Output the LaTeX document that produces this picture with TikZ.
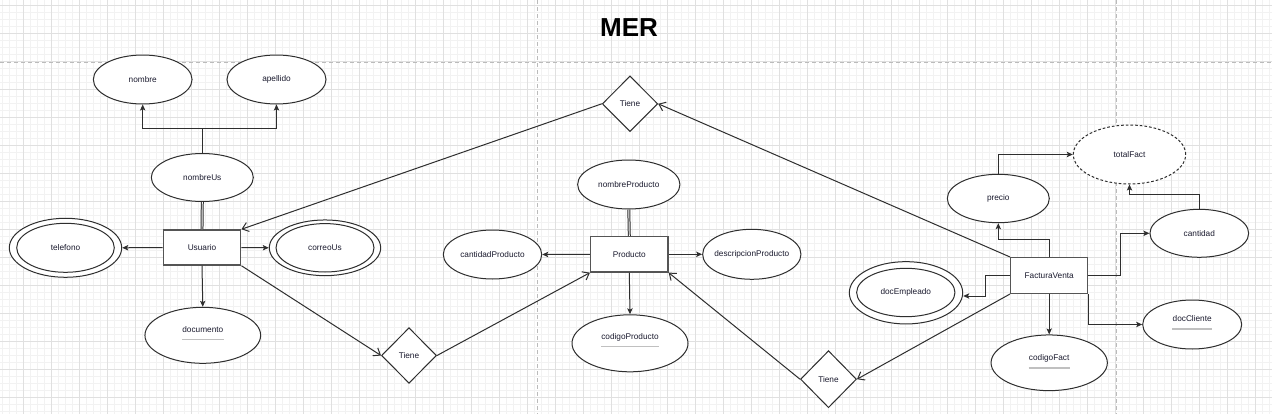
\documentclass[tikz,border=0pt]{standalone}
\usepackage{fontspec}
\setmainfont{Liberation Sans}
\usetikzlibrary{arrows.meta,shapes.geometric}
\definecolor{txt}{HTML}{1A1A2E}
\definecolor{stroke}{HTML}{2E2E2E}
\definecolor{gmajor}{HTML}{E0E0E0}
\definecolor{gminor}{HTML}{F2F2F2}
\definecolor{pagebrk}{HTML}{BBBBBB}
\definecolor{ulcol}{HTML}{C0C0C0}
\definecolor{rectcol}{HTML}{555555}
\begin{document}
\begin{tikzpicture}[x=0.75pt,y=-0.75pt,
  sz/.style 2 args={minimum width={#1*0.75pt},minimum height={#2*0.75pt}},
  lbl/.style={font=\fontsize{6.2pt}{7pt}\selectfont, text=txt, inner sep=0pt},
  attr/.style={ellipse, draw=stroke, line width=0.75pt, fill=white, lbl},
  derived/.style={attr, dash pattern=on 2pt off 1.5pt},
  ent/.style={rectangle, draw=rectcol, line width=1.1pt, fill=white, lbl},
  rel/.style={diamond, draw=stroke, line width=0.75pt, fill=white, lbl},
  plain/.style={draw=stroke, line width=0.75pt},
  arr/.style={plain, -{Stealth[length=4.5pt,width=4pt,inset=1pt]}},
  opn/.style={plain, -{Straight Barb[length=4.5pt,width=7pt]}},
  dbl/.style={draw=stroke, line width=0.75pt, double=white, double distance=0.7pt},
  uline/.style={draw=ulcol, line width=1pt},
  title/.style={font=\bfseries\fontsize{19.5pt}{22pt}\selectfont, text=black, inner sep=0pt}
]
% background and grid
\fill[white] (0,0) rectangle (1272,414);
\useasboundingbox (0,0) rectangle (1272,414);
\draw[gminor, line width=0.5pt] \foreach \i in {0,...,181} {(2.5+7*\i,0) -- (2.5+7*\i,414)};
\draw[gminor, line width=0.5pt] \foreach \i in {0,...,58} {(0,5.3+7*\i) -- (1272,5.3+7*\i)};
\draw[gmajor, line width=0.75pt] \foreach \i in {0,...,44} {(23.5+28*\i,0) -- (23.5+28*\i,414)};
\draw[gmajor, line width=0.75pt] \foreach \i in {0,...,14} {(0,5.3+28*\i) -- (1272,5.3+28*\i)};
\draw[pagebrk, line width=0.75pt, dash pattern=on 3pt off 2.25pt]
  (537,0) -- (537,414) (1116,0) -- (1116,414) (0,62) -- (1272,62);

% title
\node[title] (ttl) at (629,28) {MER};

% Usuario cluster
\node[attr, sz={98.7}{49}] (nombre) at (142.7,79.5) {nombre};
\node[attr, sz={99}{49}] (apellido) at (276.5,79.5) {apellido};
\node[attr, sz={102}{48}] (nombreUs) at (202.3,177.5) {nombreUs};
\node[ent, sz={77.4}{35}] (Usuario) at (202,247.5) {Usuario};
\node[attr, sz={112.4}{59}] (telefono) at (65.5,247.8) {};
\node[attr, sz={97.6}{49}] (telefonoIn) at (65.5,247.8) {telefono};
\node[attr, sz={111.4}{55.7}] (correoUs) at (325,247.8) {};
\node[attr, sz={98}{48.4}] (correoUsIn) at (325,247.8) {correoUs};
\node[attr, sz={115.7}{56}] (documento) at (202.8,335.3) {};
\node[lbl, anchor=base] (documentoT) at (202.8,332.6) {documento};

% relationships
\node[rel, sz={55.4}{55.7}] (tieneA) at (630,103.8) {Tiene};
\node[rel, sz={55}{55.6}] (tieneB) at (409,355.5) {Tiene};
\node[rel, sz={56}{57}] (tieneC) at (828.5,379.2) {Tiene};

% Producto cluster
\node[attr, sz={102.3}{49}] (nombreProducto) at (628.8,184.5) {nombreProducto};
\node[ent, sz={77.3}{35.3}] (Producto) at (629.3,254.3) {Producto};
\node[attr, sz={98.4}{49}] (cantidadProducto) at (492.5,254.5) {\makebox[0pt]{cantidadProducto}};
\node[attr, sz={98.3}{50}] (descripcionProducto) at (751.8,254.3) {\makebox[0pt]{descripcionProducto}};
\node[attr, sz={116}{57}] (codigoProducto) at (630,343.3) {};
\node[lbl, anchor=base] (codigoProductoT) at (630,339.8) {codigoProducto};

% FacturaVenta cluster
\node[ent, sz={77}{35.6}] (FacturaVenta) at (1049.2,275.5) {FacturaVenta};
\node[attr, sz={102}{48.4}] (precio) at (998.3,198.5) {precio};
\node[derived, sz={112.4}{59}] (totalFact) at (1129.5,154.5) {totalFact};
\node[attr, sz={98.7}{48}] (cantidad) at (1199.3,233.3) {cantidad};
\node[attr, sz={113.4}{62.3}] (docEmpleado) at (906,292.8) {};
\node[attr, sz={98.3}{48.4}] (docEmpleadoIn) at (905.8,292.5) {docEmpleado};
\node[attr, sz={116.3}{55.7}] (codigoFact) at (1049.2,362.8) {};
\node[lbl, anchor=base] (codigoFactT) at (1049.2,360.9) {codigoFact};
\node[attr, sz={99}{49}] (docCliente) at (1192.2,324.5) {};
\node[lbl, anchor=base] (docClienteT) at (1192.2,321.9) {docCliente};

% underlines of key attributes
\draw[uline] ([yshift=-5.2pt]documentoT.base west) -- ([yshift=-5.2pt]documentoT.base east);
\draw[uline] ([yshift=-5.2pt]codigoProductoT.base west) -- ([yshift=-5.2pt]codigoProductoT.base east);
\draw[uline] ([yshift=-5.2pt]codigoFactT.base west) -- ([yshift=-5.2pt]codigoFactT.base east);
\draw[uline] ([yshift=-5.2pt]docClienteT.base west) -- ([yshift=-5.2pt]docClienteT.base east);

% Usuario connectors
\coordinate (j1) at (202.3,128.3);
\draw[plain] (nombreUs.north) -- (j1);
\draw[arr] (j1) -| (nombre.south);
\draw[arr] (j1) -| (apellido.south);
\draw[dbl] (nombreUs.south) -- (Usuario.north);
\draw[arr] (Usuario.west) -- (telefono.east);
\draw[arr] (Usuario.east) -- (correoUs.west);
\draw[arr] (Usuario.south) -- (documento.north);

% relationship connectors
\draw[opn] (tieneA.west) -- (Usuario.north east);
\draw[opn] (FacturaVenta.north west) -- (tieneA.east);
\draw[opn] (Usuario.south east) -- (tieneB.west);
\draw[opn] (tieneB.east) -- (Producto.south west);
\draw[opn] (tieneC.west) -- (Producto.south east);
\draw[opn] (FacturaVenta.south west) -- (tieneC.east);

% Producto connectors
\draw[dbl] (nombreProducto.south) -- (Producto.north);
\draw[arr] (Producto.west) -- (cantidadProducto.east);
\draw[arr] (Producto.east) -- (descripcionProducto.west);
\draw[arr] (Producto.south) -- (codigoProducto.north);

% FacturaVenta connectors
\draw[arr] (FacturaVenta.north) -- ++(0,-17.7) -| (precio.south);
\draw[arr] (precio.north) |- (totalFact.west);
\draw[arr] (cantidad.north) -- ++(0,-14.3) -| (totalFact.south);
\draw[arr] (FacturaVenta.east) -- ++(31.6,0) |- (cantidad.west);
\draw[arr] (FacturaVenta.west) -- ++(-24.7,0) |- ([yshift=-2.4pt]docEmpleado.east);
\draw[arr] (FacturaVenta.south) -- (codigoFact.north);
\draw[arr] (FacturaVenta.south east) |- (docCliente.west);
\end{tikzpicture}
\end{document}
